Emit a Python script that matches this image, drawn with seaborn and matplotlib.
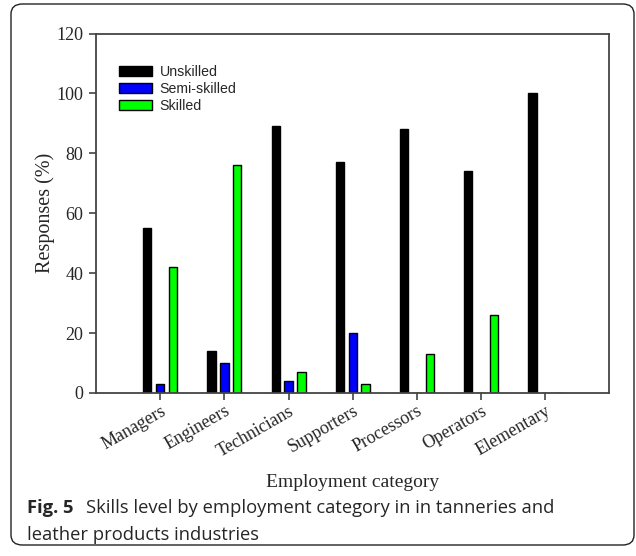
import matplotlib
matplotlib.use("Agg")
import matplotlib.pyplot as plt
from matplotlib.patches import FancyBboxPatch
import pandas as pd
import seaborn as sns

categories = ["Managers", "Engineers", "Technicians", "Supporters",
              "Processors", "Operators", "Elementary"]
unskilled = [55, 14, 89, 77, 88, 74, 100]
semi_skilled = [3, 10, 4, 20, 0, 0, 0]
skilled = [42, 76, 7, 3, 13, 26, 0]
levels = ["Unskilled", "Semi-skilled", "Skilled"]
colors = ["#000000", "#0000FF", "#00FF00"]
yticks = [0, 20, 40, 60, 80, 100, 120]

df = pd.DataFrame({
    "category": categories * 3,
    "level": [levels[0]] * 7 + [levels[1]] * 7 + [levels[2]] * 7,
    "value": unskilled + semi_skilled + skilled,
})

sns.set_style("white")
serif = "Liberation Serif"

fig = plt.figure(figsize=(6.36, 5.56), dpi=100)
ax = fig.add_axes([0.1509, 0.2932, 0.8074, 0.6465])

sns.barplot(data=df, x="category", y="value", hue="level", order=categories,
            hue_order=levels, palette=colors, saturation=1, width=0.6,
            gap=0.35, edgecolor="black", linewidth=1.0, ax=ax, legend=True)

ax.set_xlim(-1, 7)
ax.set_ylim(0, 120)
ax.set_yticks(yticks)
ax.set_yticklabels([str(t) for t in yticks], fontfamily=serif, fontsize=13)
ax.set_xticks(range(len(categories)))
ax.set_xticklabels(categories, fontfamily=serif, fontsize=13, rotation=30,
                   ha="right", rotation_mode="anchor")
ax.tick_params(axis="both", direction="out", length=5, width=1.2,
               color="#444444", bottom=True, left=True)
ax.tick_params(axis="x", pad=2)
ax.tick_params(axis="y", pad=4)
for s in ax.spines.values():
    s.set_visible(True)
    s.set_color("#444444")
    s.set_linewidth(1.3)

ax.set_xlabel("Employment category", fontfamily=serif, fontsize=14,
              labelpad=10)
ax.set_ylabel("Responses (%)", fontfamily=serif, fontsize=14.5, labelpad=1)

leg = ax.legend(loc="upper left", bbox_to_anchor=(0.045, 0.912), frameon=False,
                prop={"family": "Liberation Sans", "size": 10.2},
                handlelength=2.3, handleheight=0.75, labelspacing=0.2,
                handletextpad=0.55, borderpad=0, borderaxespad=0)
for h in leg.legend_handles:
    h.set_edgecolor("black")
    h.set_linewidth(1.0)

# Caption below the chart
cap_size = 13.2
fig.text(27 / 636, 1 - 508 / 556, "Fig. 5", fontfamily="Open Sans",
         fontweight="bold", fontsize=cap_size, va="center", ha="left")
fig.text(86 / 636, 1 - 508 / 556,
         "Skills level by employment category in in tanneries and",
         fontfamily="Open Sans", fontsize=cap_size, va="center", ha="left")
fig.text(27 / 636, 1 - 535 / 556, "leather products industries",
         fontfamily="Open Sans", fontsize=cap_size, va="center", ha="left")

# Rounded outer frame
frame = FancyBboxPatch((11 / 636, 11 / 556), 623 / 636, 541 / 556,
                       boxstyle="round,pad=0,rounding_size=0.018",
                       transform=fig.transFigure, fill=False,
                       edgecolor="#222222", linewidth=1.0)
fig.patches.append(frame)

fig.savefig("out.png", dpi=100)
